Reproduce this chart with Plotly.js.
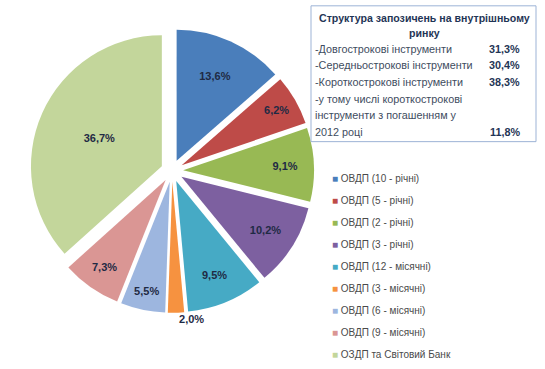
<!DOCTYPE html>
<html>
<head>
<meta charset="utf-8">
<script src="https://cdn.plot.ly/plotly-3.0.1.min.js"></script>
<style>html,body{margin:0;padding:0;background:#fff;}#chart{width:545px;height:369px;}</style>
</head>
<body>
<div id="chart"></div>
<script>
// ---- data ----
var categories = ["ОВДП (10 - річні)", "ОВДП (5 - річні)", "ОВДП (2 - річні)", "ОВДП (3 - річні)",
  "ОВДП (12 - місячні)", "ОВДП (3 - місячні)", "ОВДП (6 - місячні)", "ОВДП (9 - місячні)", "ОЗДП та Світовий Банк"];
var shares = [13.6, 6.2, 9.1, 10.2, 9.5, 2.0, 5.5, 7.3, 36.7];
var colors = ["#4A7EBB", "#BE4B48", "#98B954", "#7D60A0", "#46AAC5", "#F69240", "#9DB6DF", "#DA9694", "#C3D69B"];

var boxTitle = ["Структура запозичень на внутрішньому", "ринку"];
var boxLines = ["-Довгострокові інструменти", "-Середньострокові інструменти", "-Короткострокові інструменти",
  "-у тому числі короткострокові", "інструменти з погашенням у", "2012 році"];
var boxValues = ["31,3%", "30,4%", "38,3%", "", "", "11,8%"];

// ---- layout helpers ----
var W = 545, H = 369;
function px(x) { return x / W; }
function py(y) { return 1 - y / H; }
var FONT = "Liberation Sans, Arial, sans-serif";

var traces = [{
  type: "pie",
  labels: categories,
  values: shares,
  sort: false,
  direction: "clockwise",
  rotation: 0,
  marker: { colors: colors, line: { color: "#ffffff", width: 0 } },
  pull: shares.map(function () { return 0.085; }),
  texttemplate: "%{value:.1f}%",
  textinfo: "text",
  textposition: shares.map(function (v) { return v < 3 ? "outside" : "inside"; }),
  insidetextorientation: "horizontal",
  textfont: { family: FONT, size: 11, color: "#1F2A44", weight: "bold" },
  outsidetextfont: { family: FONT, size: 11, color: "#1F2A44", weight: "bold" },
  showlegend: false,
  hoverinfo: "label+percent",
  domain: { x: [px(30), px(314)], y: [py(325), py(27)] }
}];

categories.forEach(function (c, i) {
  traces.push({
    type: "scatter", x: [null], y: [null], mode: "markers",
    name: "<span style='color:" + colors[i] + "'>■</span> " + c, legendgroup: "g" + i,
    marker: { symbol: "square", size: 0.1, color: "rgba(0,0,0,0)", line: { width: 0, color: "rgba(0,0,0,0)" } },
    showlegend: true, hoverinfo: "skip"
  });
});

var annotations = [];
boxTitle.forEach(function (t, i) {
  annotations.push({
    xref: "paper", yref: "paper", x: px(424), y: py(19 + i * 15.5), xanchor: "center", yanchor: "middle",
    text: "<b>" + t + "</b>", showarrow: false, font: { family: FONT, size: 10.6, color: "#1F3556" }
  });
});
boxLines.forEach(function (t, i) {
  var yy = 50 + i * 17.2;
  annotations.push({
    xref: "paper", yref: "paper", x: px(313), y: py(yy), xanchor: "left", yanchor: "middle",
    text: t, showarrow: false, font: { family: FONT, size: 10.8, color: "#3E4C5E" }
  });
  if (boxValues[i]) {
    annotations.push({
      xref: "paper", yref: "paper", x: px(522), y: py(yy), xanchor: "right", yanchor: "middle",
      text: "<b>" + boxValues[i] + "</b>", showarrow: false, font: { family: FONT, size: 10.8, color: "#1F3556" }
    });
  }
});

var layout = {
  width: W, height: H,
  margin: { l: 0, r: 0, t: 0, b: 0 },
  paper_bgcolor: "#ffffff", plot_bgcolor: "#ffffff",
  separators: ", ",
  xaxis: { visible: false, domain: [0.99, 1] },
  yaxis: { visible: false, domain: [0.99, 1] },
  showlegend: true,
  legend: {
    x: px(292), y: py(169), xanchor: "left", yanchor: "top",
    traceorder: "grouped", tracegroupgap: 3,
    font: { family: FONT, size: 10, color: "#4A4A4A" },
    bgcolor: "rgba(0,0,0,0)"
  },
  shapes: [{
    type: "rect", xref: "paper", yref: "paper",
    x0: px(311), x1: px(536), y0: py(146), y1: py(6),
    line: { color: "#9DB3D6", width: 1 }, fillcolor: "rgba(0,0,0,0)"
  }],
  annotations: annotations
};

Plotly.newPlot("chart", traces, layout, { displayModeBar: false, staticPlot: true });
</script>
</body>
</html>
